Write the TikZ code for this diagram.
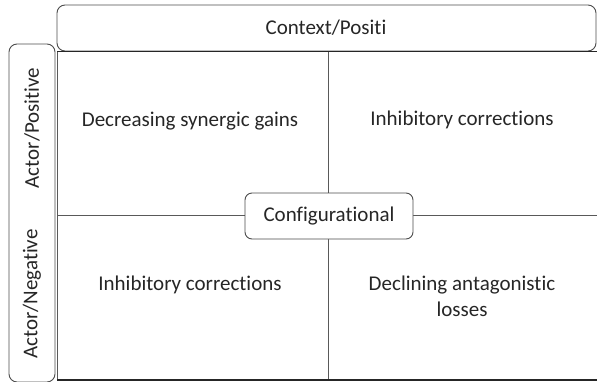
\documentclass[tikz,border=0pt]{standalone}
\usepackage{fontspec}
\setmainfont{Carlito}[Ligatures=NoCommon]
\begin{document}
\begin{tikzpicture}[x=1pt,y=-1pt,
  frame/.style={draw=black!70,line width=0.9pt,rounded corners=8pt},
  label/.style={font=\fontsize{21}{26}\selectfont,text=black!85,align=center},
  grid/.style={draw=black!65,line width=0.9pt}]
\useasboundingbox (0,0) rectangle (597,381);
\begin{scope}
\clip (0,0) rectangle (597,381);
% header strip and side strip
\draw[frame] (57,5) rectangle (596,51);
\draw[frame] (9,44) rectangle (55,382);
% quadrant lines
\draw[grid] (57,51) -- (57,380);
\draw[grid] (328,51) -- (328,380);
\draw[grid] (57,215) -- (600,215);
\draw[draw=black!85,line width=1.3pt] (57,51.3) -- (600,51.3);
\draw[draw=black!85,line width=1.3pt] (57,380) -- (600,380);
\end{scope}
\node[label] (ctx) at (326,28) {Context/Positi};
\node[label,rotate=90] (apos) at (32,128) {Actor/Positive};
\node[label,rotate=90] (aneg) at (32,294) {Actor/Negative};
\node[label] (q1) at (190,121) {Decreasing synergic gains};
\node[label] (q2) at (462,120) {Inhibitory corrections};
\node[label] (q3) at (190,285) {Inhibitory corrections};
\node[label] (q4) at (462,296) {Declining antagonistic\\losses};
\node[label,draw=black!70,fill=white,line width=0.9pt,rounded corners=7pt,
  minimum width=168pt,minimum height=46pt] (cfg) at (329,216) {Configurational};
\end{tikzpicture}
\end{document}
